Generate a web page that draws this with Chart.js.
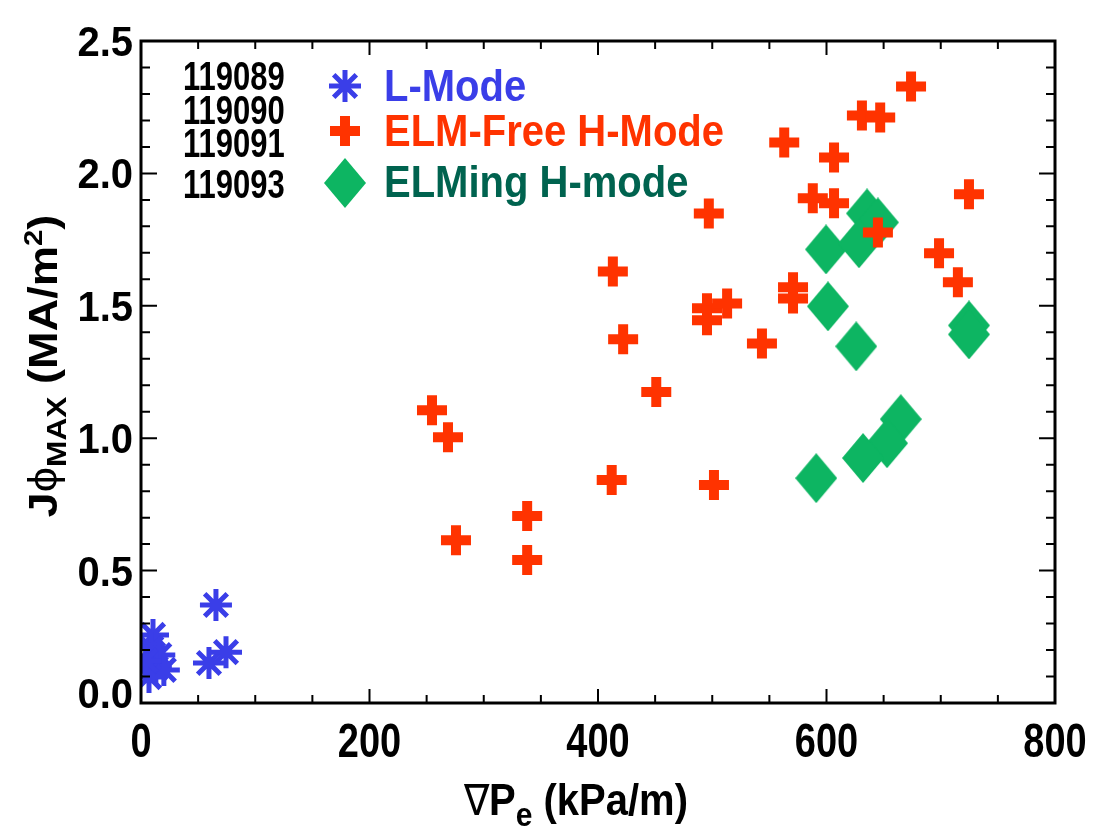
<!DOCTYPE html>
<html>
<head>
<meta charset="utf-8">
<script src="https://cdn.jsdelivr.net/npm/chart.js@4.4.1/dist/chart.umd.min.js"></script>
<style>
  html, body { margin: 0; padding: 0; background: #fff; }
  #wrap { width: 1094px; height: 826px; }
</style>
</head>
<body>
<div id="wrap"><canvas id="jphiChart" width="1094" height="826"></canvas></div>
<script>
// discharges in the data set
const shots = ['119089', '119090', '119091', '119093'];
const seriesNames = ['L-Mode', 'ELM-Free H-Mode', 'ELMing H-mode'];

// L-mode: grad Pe (kPa/m) vs peak J_phi (MA/m^2)
const lModeGradP = [10.5, 9, 16, 13, 20, 7, 4, 59.5, 74.4, 65.6];
const lModeJ     = [0.257, 0.208, 0.181, 0.132, 0.125, 0.098, 0.16, 0.151, 0.192, 0.370];

// ELM-free H-mode
const elmFreeGradP = [254.7, 268.7, 275.7, 338, 338, 413, 422, 451, 412, 497, 501.5, 495.4, 495.4, 513,
                      543.5, 563, 570.7, 570.7, 588, 606.6, 606.6, 631, 647, 645, 674, 698.5, 715, 724.7];
const elmFreeJ     = [1.106, 1.004, 0.615, 0.706, 0.540, 1.630, 1.374, 1.174, 0.842, 1.849, 0.823, 1.491, 1.445, 1.509,
                      1.358, 2.117, 1.570, 1.528, 1.906, 2.060, 1.887, 2.219, 2.211, 1.777, 2.328, 1.698, 1.589, 1.921];

// ELMing H-mode
const elmingGradP = [635.5, 645, 599.6, 628.4, 601.3, 626, 724.7, 724.7, 665, 653, 632, 591];
const elmingJ     = [1.849, 1.815, 1.713, 1.736, 1.498, 1.347, 1.426, 1.392, 1.072, 0.981, 0.925, 0.849];

// axis ranges and tick steps
const xRange = [0, 800];
const yRange = [0, 2.5];
const xMajor = 200, xMinor = 50;
const yMajor = 0.5, yMinor = 0.1;

const BLUE = '#3a3ee8';
const RED = '#ff3300';
const GREEN = '#0db562';
const TEAL = '#00634f';
const FONT = "'Liberation Sans', Arial, Helvetica, sans-serif";

function toPoints(xs, ys) {
  return xs.map((v, i) => ({ x: v, y: ys[i] }));
}

// tall diamond used for the ELMing points
function diamondImage(w, h, color) {
  const c = document.createElement('canvas');
  c.width = w; c.height = h;
  const g = c.getContext('2d');
  g.fillStyle = color;
  g.beginPath();
  g.moveTo(w / 2, 0); g.lineTo(w, h / 2); g.lineTo(w / 2, h); g.lineTo(0, h / 2);
  g.closePath();
  g.fill();
  return c;
}
const diamond = diamondImage(42, 50, GREEN);

// text helper: glyphs drawn a little taller than wide
function tallText(ctx, str, x, y, size, weight, stretch, align) {
  ctx.save();
  ctx.font = weight + ' ' + size + 'px ' + FONT;
  ctx.textAlign = align || 'left';
  ctx.textBaseline = 'alphabetic';
  ctx.translate(x, y);
  ctx.scale(1, stretch);
  ctx.fillText(str, 0, 0);
  ctx.restore();
}

// a run of text pieces (for sub/superscripts), returns total width
function runText(ctx, pieces, x, y, stretchX, draw) {
  let cx = x;
  pieces.forEach(p => {
    ctx.font = p.w + ' ' + p.s + 'px ' + FONT;
    if (draw) {
      ctx.save();
      ctx.translate(cx, y + (p.dy || 0));
      ctx.scale(stretchX, 1);
      ctx.fillText(p.t, 0, 0);
      ctx.restore();
    }
    cx += ctx.measureText(p.t).width * stretchX;
  });
  return cx - x;
}

const frameAndText = {
  id: 'frameAndText',
  afterDatasetsDraw(chart) {
    const { ctx, chartArea: a, scales: { x, y } } = chart;
    ctx.save();

    // inward ticks on all four sides
    ctx.strokeStyle = '#000';
    ctx.lineWidth = 2;
    ctx.beginPath();
    for (let v = xRange[0]; v <= xRange[1]; v += xMinor) {
      const px = x.getPixelForValue(v);
      const len = v % xMajor === 0 ? 14 : 8;
      ctx.moveTo(px, a.bottom); ctx.lineTo(px, a.bottom - len);
      ctx.moveTo(px, a.top); ctx.lineTo(px, a.top + len);
    }
    const nY = Math.round((yRange[1] - yRange[0]) / yMinor);
    for (let i = 0; i <= nY; i++) {
      const py = y.getPixelForValue(yRange[0] + i * yMinor);
      const len = i % Math.round(yMajor / yMinor) === 0 ? 16 : 9;
      ctx.moveTo(a.left, py); ctx.lineTo(a.left + len, py);
      ctx.moveTo(a.right, py); ctx.lineTo(a.right - len, py);
    }
    ctx.stroke();

    ctx.lineWidth = 3;
    ctx.strokeRect(a.left, a.top, a.right - a.left, a.bottom - a.top);

    // tick labels
    ctx.fillStyle = '#000';
    x.ticks.forEach(t => {
      tallText(ctx, String(t.value), x.getPixelForValue(t.value), 757, 38, 'bold', 1.25, 'center');
    });
    y.ticks.forEach(t => {
      const lift = t.value === yRange[0] ? 10 : 0;
      tallText(ctx, t.value.toFixed(1), 133, y.getPixelForValue(t.value) + 15 - lift, 40, 'bold', 1.08, 'right');
    });

    // x title: grad Pe (kPa/m)
    const xPieces = [
      { t: '\u2207', s: 38, w: 'normal' },
      { t: 'P', s: 40, w: 'bold' },
      { t: 'e', s: 30, w: 'bold', dy: 10 },
      { t: ' (kPa/m)', s: 40, w: 'bold' }
    ];
    ctx.save();
    ctx.translate(0, 815);
    ctx.scale(1, 1.13);
    const xw = runText(ctx, xPieces, 0, 0, 1, false);
    runText(ctx, xPieces, 576 - xw / 2, 0, 1, true);
    ctx.restore();

    // y title: J_phi,MAX (MA/m^2), rotated
    const yPieces = [
      { t: 'J', s: 40, w: 'bold' },
      { t: '\u03D5', s: 40, w: 'normal' },
      { t: 'MAX', s: 28, w: 'bold', dy: 9 },
      { t: ' (MA/m', s: 40, w: 'bold' },
      { t: '2', s: 26, w: 'bold', dy: -15 },
      { t: ')', s: 40, w: 'bold' }
    ];
    ctx.save();
    ctx.translate(57, 366);
    ctx.rotate(-Math.PI / 2);
    const yw = runText(ctx, yPieces, 0, 0, 1.13, false);
    runText(ctx, yPieces, -yw / 2, 0, 1.13, true);
    ctx.restore();

    // shot numbers
    const shotBase = [90, 124, 157, 198];
    shots.forEach((s, i) => tallText(ctx, s, 183, shotBase[i], 31, 'bold', 1.3, 'left'));

    // in-plot legend
    const H = Chart.helpers;
    ctx.lineCap = 'butt';
    ctx.strokeStyle = BLUE; ctx.fillStyle = BLUE;
    ctx.lineWidth = 5;
    H.drawPoint(ctx, { pointStyle: 'star', radius: 16, rotation: 0, borderWidth: 5 }, 345, 86);
    tallText(ctx, seriesNames[0], 384, 101, 40, 'bold', 1.1, 'left');

    ctx.strokeStyle = RED; ctx.fillStyle = RED;
    ctx.lineWidth = 10;
    H.drawPoint(ctx, { pointStyle: 'cross', radius: 15, rotation: 0, borderWidth: 10 }, 345, 131);
    tallText(ctx, seriesNames[1], 384, 146, 40, 'bold', 1.1, 'left');

    ctx.drawImage(diamond, 345 - diamond.width / 2, 183 - diamond.height / 2);
    ctx.fillStyle = TEAL;
    tallText(ctx, seriesNames[2], 384, 197, 40, 'bold', 1.1, 'left');

    ctx.restore();
  }
};

new Chart(document.getElementById('jphiChart'), {
  type: 'scatter',
  data: {
    datasets: [
      {
        label: seriesNames[0],
        data: toPoints(lModeGradP, lModeJ),
        pointStyle: 'star',
        pointRadius: 16,
        pointHoverRadius: 16,
        borderWidth: 5,
        pointBorderWidth: 5,
        borderColor: BLUE,
        backgroundColor: BLUE,
        clip: 0
      },
      {
        label: seriesNames[1],
        data: toPoints(elmFreeGradP, elmFreeJ),
        pointStyle: 'cross',
        pointRadius: 15,
        pointHoverRadius: 15,
        borderWidth: 10,
        pointBorderWidth: 10,
        borderColor: RED,
        backgroundColor: RED,
        clip: 0
      },
      {
        label: seriesNames[2],
        data: toPoints(elmingGradP, elmingJ),
        pointStyle: diamond,
        pointRadius: 20,
        pointHoverRadius: 20,
        borderColor: GREEN,
        backgroundColor: GREEN,
        clip: 0
      }
    ]
  },
  options: {
    responsive: false,
    animation: false,
    events: [],
    layout: { padding: { top: 41, right: 39, left: 0, bottom: 0 } },
    scales: {
      x: {
        type: 'linear',
        min: xRange[0],
        max: xRange[1],
        ticks: { stepSize: xMajor, display: false },
        grid: { display: false },
        border: { display: false },
        afterFit: s => { s.height = 123; }
      },
      y: {
        type: 'linear',
        min: yRange[0],
        max: yRange[1],
        ticks: { stepSize: yMajor, display: false },
        grid: { display: false },
        border: { display: false },
        afterFit: s => { s.width = 141; }
      }
    },
    plugins: {
      legend: { display: false },
      tooltip: { enabled: false }
    }
  },
  plugins: [frameAndText]
});
</script>
</body>
</html>
